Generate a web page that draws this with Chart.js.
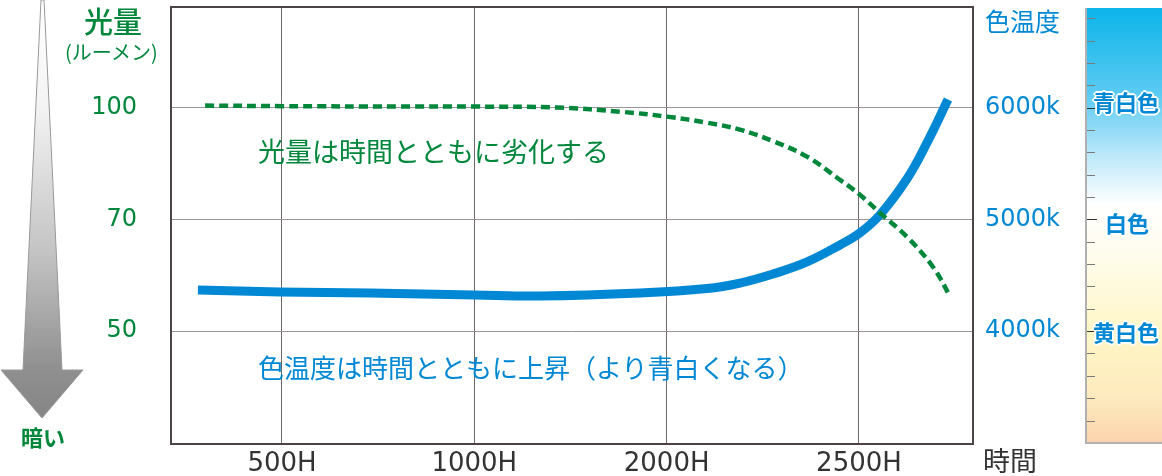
<!DOCTYPE html>
<html>
<head>
<meta charset="utf-8">
<script src="https://cdn.jsdelivr.net/npm/chart.js@4/dist/chart.umd.min.js"></script>
<style>
  body { margin: 0; background: #fff; }
  #wrap { position: relative; width: 1162px; height: 476px; font-family: "Noto Sans CJK JP", sans-serif; }
  canvas { position: absolute; left: 0; top: 0; }
  .t { position: absolute; white-space: nowrap; line-height: 1; }
  .bar { font-weight: 700; font-size: 22px; color: #0088d4;
         text-shadow: 2px 0 #fff, -2px 0 #fff, 0 2px #fff, 0 -2px #fff, 1px 1px #fff, -1px -1px #fff, 1px -1px #fff, -1px 1px #fff; }
</style>
</head>
<body>
<div id="wrap">
  <canvas id="chart" width="1162" height="476"></canvas>
  <div class="t" style="left:84px;top:6px;font-size:29px;font-weight:500;color:#00873c">光量</div>
  <div class="t" style="left:65px;top:42px;font-size:20px;color:#00873c">(ルーメン)</div>
  <div class="t" style="left:21px;top:425px;font-size:22px;font-weight:700;color:#00873c">暗い</div>
  <div class="t" style="left:985px;top:8px;font-size:25px;color:#0088d4">色温度</div>
  <div class="t" style="left:983px;top:446px;font-size:27px;color:#333">時間</div>
  <div class="t" style="left:258px;top:137px;font-size:27px;color:#00873c">光量は時間とともに劣化する</div>
  <div class="t" style="left:258px;top:354px;font-size:26px;color:#0088d4">色温度は時間とともに上昇（より青白くなる）</div>
  <div class="t bar" style="left:1093px;top:90px">青白色</div>
  <div class="t bar" style="left:1105px;top:211px">白色</div>
  <div class="t bar" style="left:1093px;top:320px">黄白色</div>
</div>
<script>
// grid positions (axis units) and their labels
const gridUnits = [1, 2, 3];
const lumenTicks = ['50', '70', '100'];
const kelvinTicks = ['4000k', '5000k', '6000k'];
const hourUnits = [1, 2, 3, 4];
const hourLabels = ['500H', '1000H', '2000H', '2500H'];

// light output (green dashed)
const lumenX = [0.600, 1.000, 1.614, 1.998, 2.430, 2.773, 3.002, 3.210, 3.381, 3.553, 3.730, 3.901, 4.005, 4.109, 4.250, 4.385, 4.473];
const lumenY = [3.018, 3.013, 3.009, 3.009, 3.000, 2.961, 2.919, 2.865, 2.803, 2.700, 2.561, 2.354, 2.220, 2.058, 1.843, 1.574, 1.314];

// colour temperature (blue)
const colorX = [0.563, 0.990, 1.458, 2.003, 2.341, 2.861, 3.210, 3.381, 3.553, 3.730, 3.901, 4.005, 4.109, 4.250, 4.354, 4.463];
const colorY = [1.368, 1.350, 1.341, 1.323, 1.314, 1.341, 1.381, 1.430, 1.511, 1.619, 1.771, 1.879, 2.040, 2.363, 2.686, 3.072];

const GREEN = '#00873c';
const BLUE = '#0088d4';
const FRAME = '#4a4444';

function pts(xs, ys) { return xs.map((x, i) => ({ x: x, y: ys[i] })); }

// keep the tick padding from pushing the plot area in
function noPad(ax) { ax.paddingTop = 0; ax.paddingBottom = 0; ax.paddingLeft = 0; ax.paddingRight = 0; }

const decor = {
  id: 'decor',
  beforeDraw(chart) {
    const ctx = chart.ctx;
    ctx.save();
    // darkening arrow on the left
    let g = ctx.createLinearGradient(0, 0, 0, 418);
    g.addColorStop(0, '#ffffff');
    g.addColorStop(0.25, '#f4f4f4');
    g.addColorStop(0.6, '#c4c4c4');
    g.addColorStop(0.88, '#909090');
    g.addColorStop(1, '#858585');
    ctx.beginPath();
    ctx.moveTo(41, 0); ctx.lineTo(44, 0); ctx.lineTo(62, 370); ctx.lineTo(83, 370);
    ctx.lineTo(42, 418); ctx.lineTo(1, 370); ctx.lineTo(23, 370); ctx.closePath();
    ctx.fillStyle = g; ctx.fill();
    ctx.strokeStyle = '#999'; ctx.lineWidth = 1; ctx.stroke();

    // colour bar on the right
    const y = chart.scales.y;
    const top = chart.chartArea.top + 1, bot = chart.chartArea.bottom - 1;
    g = ctx.createLinearGradient(0, top, 0, bot);
    g.addColorStop(0, '#0bb4ea');
    g.addColorStop(0.2, '#5ccbf2');
    g.addColorStop(0.33, '#b6e6f9');
    g.addColorStop(0.45, '#ffffff');
    g.addColorStop(0.55, '#fffdf0');
    g.addColorStop(0.75, '#fff6c6');
    g.addColorStop(0.9, '#fde9bd');
    g.addColorStop(1, '#fbd3ad');
    ctx.fillStyle = g;
    ctx.fillRect(1086, top, 76, bot - top);
    ctx.strokeStyle = '#b0b0b0'; ctx.lineWidth = 2;
    ctx.beginPath();
    ctx.moveTo(1086, top); ctx.lineTo(1086, bot); ctx.lineTo(1162, bot);
    ctx.stroke();
    ctx.lineWidth = 1;
    for (let v = 0.2; v < 3.85; v += 0.2) {
      const p = Math.round(y.getPixelForValue(v)) + 0.5;
      const major = Math.abs(v - Math.round(v)) < 0.01;
      ctx.strokeStyle = major ? '#333' : '#7a7a7a';
      ctx.beginPath(); ctx.moveTo(1087, p); ctx.lineTo(major ? 1097 : 1095, p); ctx.stroke();
    }
    ctx.restore();
  },
  afterDraw(chart) {
    const a = chart.chartArea, ctx = chart.ctx;
    ctx.save();
    ctx.strokeStyle = FRAME; ctx.lineWidth = 2;
    ctx.beginPath(); ctx.moveTo(a.left, a.top); ctx.lineTo(a.right, a.top); ctx.stroke();
    ctx.restore();
  }
};

new Chart(document.getElementById('chart'), {
  type: 'line',
  data: {
    datasets: [
      {
        data: pts(lumenX, lumenY),
        borderColor: GREEN, borderWidth: 4.5, borderDash: [9, 5],
        pointRadius: 0, tension: 0.4, fill: false
      },
      {
        data: pts(colorX, colorY),
        borderColor: BLUE, borderWidth: 9, borderCapStyle: 'butt',
        pointRadius: 0, tension: 0.4, fill: false
      }
    ]
  },
  options: {
    responsive: false, animation: false, devicePixelRatio: 1,
    layout: { padding: { top: 7, left: 0, right: 0, bottom: 0 } },
    plugins: { legend: { display: false }, tooltip: { enabled: false } },
    scales: {
      x: {
        type: 'linear', min: 0.423, max: 4.593,
        afterBuildTicks: (ax) => { ax.ticks = hourUnits.map(v => ({ value: v })); },
        afterFit: (ax) => { ax.height = 32; noPad(ax); },
        grid: { color: '#6e6868', lineWidth: 1, drawTicks: false },
        border: { color: FRAME, width: 2 },
        ticks: {
          autoSkip: false, maxRotation: 0, padding: 5, color: '#333',
          font: { family: 'DejaVu Sans', size: 26 },
          callback: (v) => hourLabels[hourUnits.indexOf(v)]
        }
      },
      y: {
        type: 'linear', position: 'left', min: -0.01, max: 3.9,
        afterBuildTicks: (ax) => { ax.ticks = gridUnits.map(v => ({ value: v })); },
        afterFit: (ax) => { ax.width = 171; noPad(ax); },
        grid: { color: '#9a9696', lineWidth: 1, drawTicks: false },
        border: { color: FRAME, width: 2 },
        ticks: {
          padding: 34, color: GREEN,
          font: { family: 'DejaVu Sans', size: 24 },
          callback: (v) => lumenTicks[gridUnits.indexOf(v)]
        }
      },
      y2: {
        type: 'linear', position: 'right', min: -0.01, max: 3.9,
        afterBuildTicks: (ax) => { ax.ticks = gridUnits.map(v => ({ value: v })); },
        afterFit: (ax) => { ax.width = 189; noPad(ax); },
        grid: { display: false, drawTicks: false },
        border: { color: FRAME, width: 2 },
        ticks: {
          padding: 12, color: BLUE,
          font: { family: 'DejaVu Sans', size: 24 },
          callback: (v) => kelvinTicks[gridUnits.indexOf(v)]
        }
      }
    }
  },
  plugins: [decor]
});
</script>
</body>
</html>
